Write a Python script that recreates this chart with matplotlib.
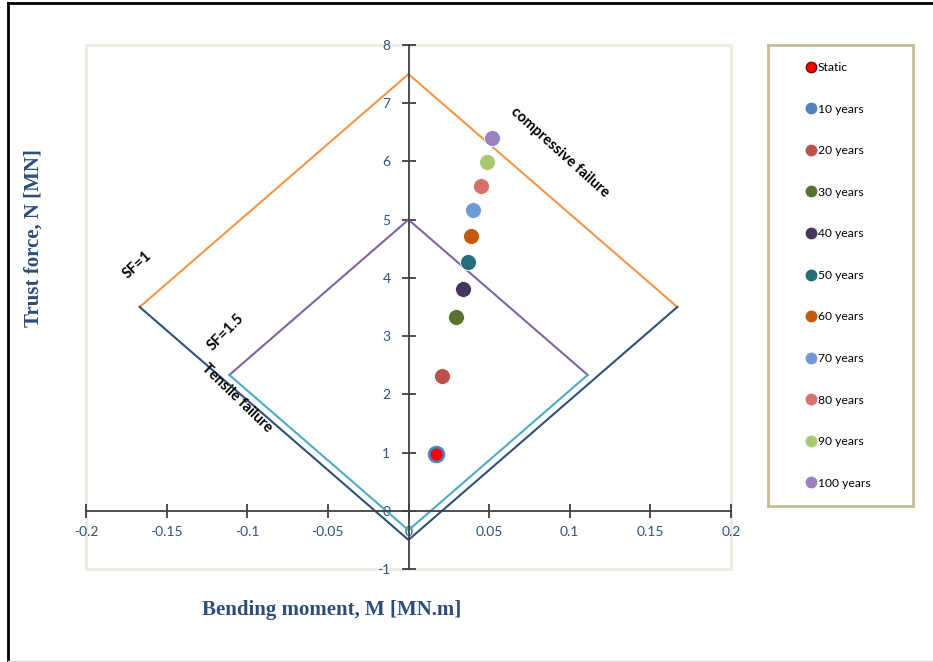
import matplotlib.pyplot as plt
from matplotlib.lines import Line2D
from matplotlib.patches import Rectangle

plt.rcParams["axes.unicode_minus"] = False

# Interaction diagram data
labels = ["Static", "10 years", "20 years", "30 years", "40 years", "50 years",
          "60 years", "70 years", "80 years", "90 years", "100 years"]
moment = [0.0172, 0.0172, 0.0206, 0.0295, 0.0336, 0.0367,
          0.0388, 0.0402, 0.0451, 0.0485, 0.0516]
thrust = [0.98, 0.98, 2.32, 3.33, 3.81, 4.28, 4.72, 5.17, 5.58, 5.99, 6.40]
colors = ["#FF0000", "#4F81BD", "#C0504D", "#5A7230", "#46375E", "#236E7E",
          "#C25B0C", "#6F9BD4", "#D8706E", "#ABC775", "#9883BF"]

# Failure envelopes
sf1_comp_m = [-0.1667, 0.0, 0.1667]
sf1_comp_n = [3.5, 7.5, 3.5]
sf1_tens_m = [-0.1667, 0.0, 0.1667]
sf1_tens_n = [3.5, -0.5, 3.5]
sf15_comp_m = [-0.1111, 0.0, 0.1111]
sf15_comp_n = [2.333, 5.0, 2.333]
sf15_tens_m = [-0.1111, 0.0, 0.1111]
sf15_tens_n = [2.333, -0.333, 2.333]

W, H = 933, 662
fig = plt.figure(figsize=(W / 100, H / 100), dpi=100)
ax = fig.add_axes([86 / W, 93 / H, 645 / W, 524 / H])

ax.plot(sf1_comp_m, sf1_comp_n, color="#F79646", linewidth=1.5, zorder=2)
ax.plot(sf1_tens_m, sf1_tens_n, color="#2F5079", linewidth=1.5, zorder=2)
ax.plot(sf15_comp_m, sf15_comp_n, color="#8064A2", linewidth=1.5, zorder=2)
ax.plot(sf15_tens_m, sf15_tens_n, color="#4BACC6", linewidth=1.5, zorder=2)

for i, lab in enumerate(labels):
    if lab == "Static":
        ms, z, ec = 8, 6, "#FF0000"
    elif lab == "10 years":
        ms, z, ec = 12, 5, "#4F81BD"
    else:
        ms, z, ec = 11.5, 5, "white"
    ax.plot(moment[i], thrust[i], "o", color=colors[i], markersize=ms,
            markeredgecolor=ec, markeredgewidth=0.6, zorder=z)

ax.set_xlim(-0.2, 0.2)
ax.set_ylim(-1, 8)
ax.set_xticks([-0.2, -0.15, -0.1, -0.05, 0, 0.05, 0.1, 0.15, 0.2])
ax.set_xticklabels(["-0.2", "-0.15", "-0.1", "-0.05", "0", "0.05", "0.1", "0.15", "0.2"])
ax.set_yticks(range(-1, 9))

ax.spines["left"].set_position(("data", 0))
ax.spines["bottom"].set_position(("data", 0))
ax.spines["top"].set_visible(False)
ax.spines["right"].set_visible(False)
for s in ("left", "bottom"):
    ax.spines[s].set_color("#404040")
    ax.spines[s].set_linewidth(1.3)
ax.tick_params(direction="inout", length=10, width=1.3, color="#404040",
               labelcolor="#2C5282", labelsize=10)
ax.tick_params(axis="y", pad=8)
ax.tick_params(axis="x", pad=6)
for t in ax.get_xticklabels() + ax.get_yticklabels():
    t.set_family(["Lato", "DejaVu Sans"])

# beige plot-area frame
ax.add_patch(Rectangle((0, 0), 1, 1, transform=ax.transAxes, fill=False,
                       edgecolor="#EEECE1", linewidth=2, clip_on=False, zorder=0))

# annotations
tf = dict(fontsize=10.5, fontweight="bold", color="black", family=["Lato", "DejaVu Sans"],
          ha="center", va="center", rotation_mode="anchor")
ax.text(0.094, 6.15, "compressive failure", rotation=-42, **tf)
ax.text(-0.168, 4.22, "SF=1", rotation=42, **tf)
ax.text(-0.113, 3.06, "SF=1.5", rotation=45, **tf)
ax.text(-0.1065, 1.93, "Tensile failure", rotation=-44, **tf)

# axis titles
lf = dict(fontsize=15, fontweight="bold", color="#2C4D7B", family="Liberation Serif")
fig.text(34 / W, 1 - 238 / H, "Trust force, N [MN]", rotation=90,
         ha="center", va="center", **lf)
fig.text(332 / W, 1 - 610 / H, "Bending moment, M [MN.m]",
         ha="center", va="center", **lf)

# legend with its own frame
fig.patches.append(Rectangle((768 / W, 1 - 506 / H), 145 / W, 461 / H,
                             transform=fig.transFigure, fill=False,
                             edgecolor="#C4BD97", linewidth=2))
handles = []
for i, lab in enumerate(labels):
    edge = "#7A0000" if lab == "Static" else colors[i]
    handles.append(Line2D([], [], linestyle="none", marker="o", markersize=7.5,
                          markerfacecolor=colors[i], markeredgecolor=edge, label=lab))
fig.legend(handles=handles, loc="upper left", bbox_to_anchor=(806 / W, 1 - 62 / H),
           frameon=False, handlelength=0.8, handletextpad=0.2,
           labelspacing=2.53, borderpad=0, borderaxespad=0,
           prop={"family": ["Lato", "DejaVu Sans"], "size": 8.7})

# outer chart border (left/top dark, bottom light)
fig.add_artist(Line2D([8 / W, 8 / W], [0, 1 - 3 / H], color="black", linewidth=2,
                      transform=fig.transFigure))
fig.add_artist(Line2D([8 / W, 1], [1 - 3 / H, 1 - 3 / H], color="black", linewidth=2,
                      transform=fig.transFigure))
fig.add_artist(Line2D([8 / W, 1], [1 / H, 1 / H], color="#D9D9D9", linewidth=1,
                      transform=fig.transFigure))

fig.savefig("out.png", dpi=100)
